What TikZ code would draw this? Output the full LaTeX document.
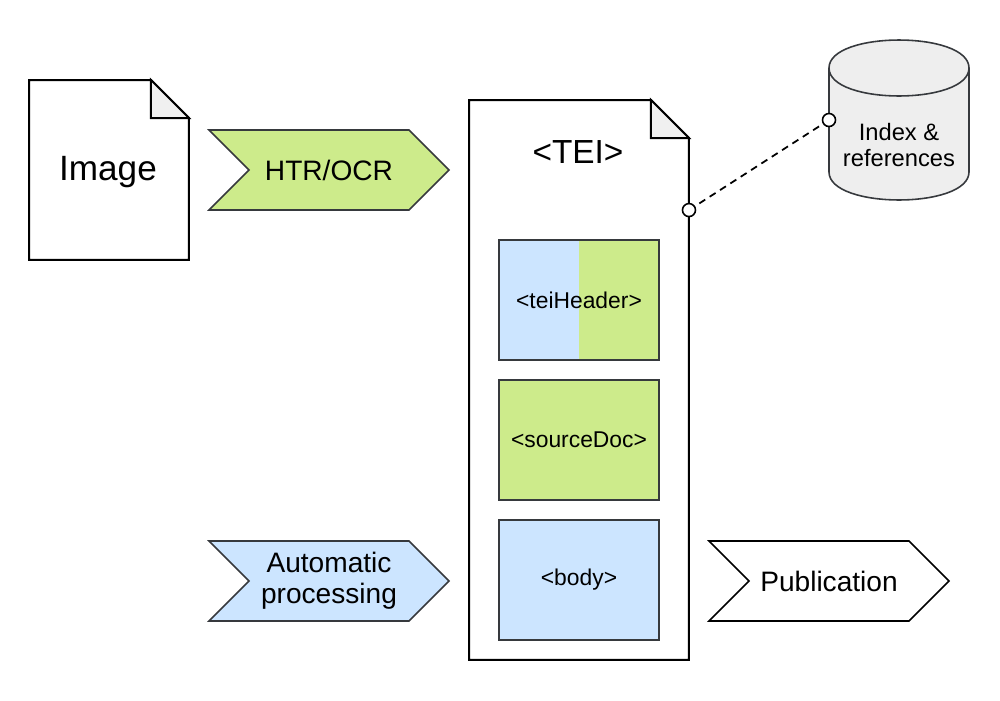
\documentclass[tikz,border=0pt]{standalone}
\usepackage{fontspec}
\setmainfont{Liberation Sans}
\usepackage{tikz}
\usetikzlibrary{positioning}
\usetikzlibrary{calc,backgrounds}
\usepackage{xcolor}
\definecolor{leafgreen}{HTML}{CDEB8B}
\definecolor{skyblue}{HTML}{CCE5FF}
\definecolor{darkline}{HTML}{36393D}
\definecolor{dbgray}{HTML}{EEEEEE}
\definecolor{foldgray}{HTML}{F0F0F0}
\tikzset{
  basic/.style  = {inner sep=0pt, outer sep=0pt, align=center},
  doc page/.style = {basic, font=\fontsize{20}{23}\selectfont},
  doc line/.style = {draw=black, line width=1.15pt, line join=miter},
  tag box/.style = {basic, draw=darkline, line width=1.1pt, minimum width=3.2cm,
                   minimum height=2.4cm, font=\fontsize{13}{15}\selectfont},
  step label/.style = {basic, font=\fontsize{16}{17.6}\selectfont},
  chevron line/.style = {line width=0.9pt, line join=miter},
  db label/.style = {basic, font=\fontsize{13.5}{15.3}\selectfont},
  link/.style = {dashed, dash pattern=on 4pt off 3pt, line width=1pt},
  port/.style = {circle, draw=black, fill=white, line width=0.9pt,
                 minimum size=0.26cm, inner sep=0pt}
}
% page with folded corner round a node
\newcommand{\docoutline}[1]{%
  \draw[doc line] (#1.south west) -- (#1.north west) -- ($(#1.north east)+(-38,0)$)
    -- ($(#1.north east)+(0,38)$) -- (#1.south east) -- cycle;
  \draw[doc line, fill=foldgray] ($(#1.north east)+(-38,0)$) -- ($(#1.north east)+(-38,38)$)
    -- ($(#1.north east)+(0,38)$) -- cycle;}
% chevron round a step label
\newcommand{\stepchevron}[3]{%
  \draw[chevron line, draw=#3, fill=#2] ($(#1)+(-120,-40)$) -- ($(#1)+(80,-40)$)
    -- ($(#1)+(120,0)$) -- ($(#1)+(80,40)$) -- ($(#1)+(-120,40)$)
    -- ($(#1)+(-80,0)$) -- cycle;}
\begin{document}
\begin{tikzpicture}[x=0.02cm, y=-0.02cm]
\useasboundingbox (0,0) rectangle (1000,700);

\node[doc page, minimum width=3.2cm, minimum height=3.6cm] (img) at (109,170) {};
\node[doc page, minimum width=4.4cm, minimum height=11.2cm] (tei) at (579,380) {};
\docoutline{img}
\docoutline{tei}
\node[doc page] (img title) at (108,172) {Image};
\node[doc page, font=\fontsize{19}{21}\selectfont] (tei title) at (578,152) {<TEI>};

\node[tag box, fill=leafgreen, path picture={\fill[skyblue] (path picture bounding box.south west)
  rectangle (path picture bounding box.north);}] (header) at (579,300) {<teiHeader>};
\node[tag box, fill=leafgreen] (source) at (579,440) {<sourceDoc>};
\node[tag box, fill=skyblue] (body) at (579,580) {<body>};

\node[step label] (htr) at (329,170) {HTR/OCR};
\node[step label] (auto) at (329,581) {Automatic\\processing};
\node[step label] (pub) at (829,581) {Publication};
\node[db label] (idx) at (899,145) {Index \&\\references};

\begin{scope}[on background layer]
\path[fill=white] (0,0) rectangle (1000,700);
\stepchevron{htr}{leafgreen}{darkline}
\stepchevron{auto}{skyblue}{darkline}
\stepchevron{pub}{white}{black}
\draw[chevron line, draw=darkline, fill=dbgray] (829,68) .. controls (829,30.7) and (969,30.7) .. (969,68)
  -- (969,172) .. controls (969,209.3) and (829,209.3) .. (829,172) -- cycle;
\draw[chevron line, draw=darkline] (829,68) .. controls (829,105.3) and (969,105.3) .. (969,68);
\end{scope}

\coordinate (tei port) at ($(tei.north east)+(0,110)$);
\coordinate (idx port) at (829,120);
\path [draw, link] (tei port) -- (idx port);
\node[port] at (tei port) {};
\node[port] at (idx port) {};

\end{tikzpicture}
\end{document}
